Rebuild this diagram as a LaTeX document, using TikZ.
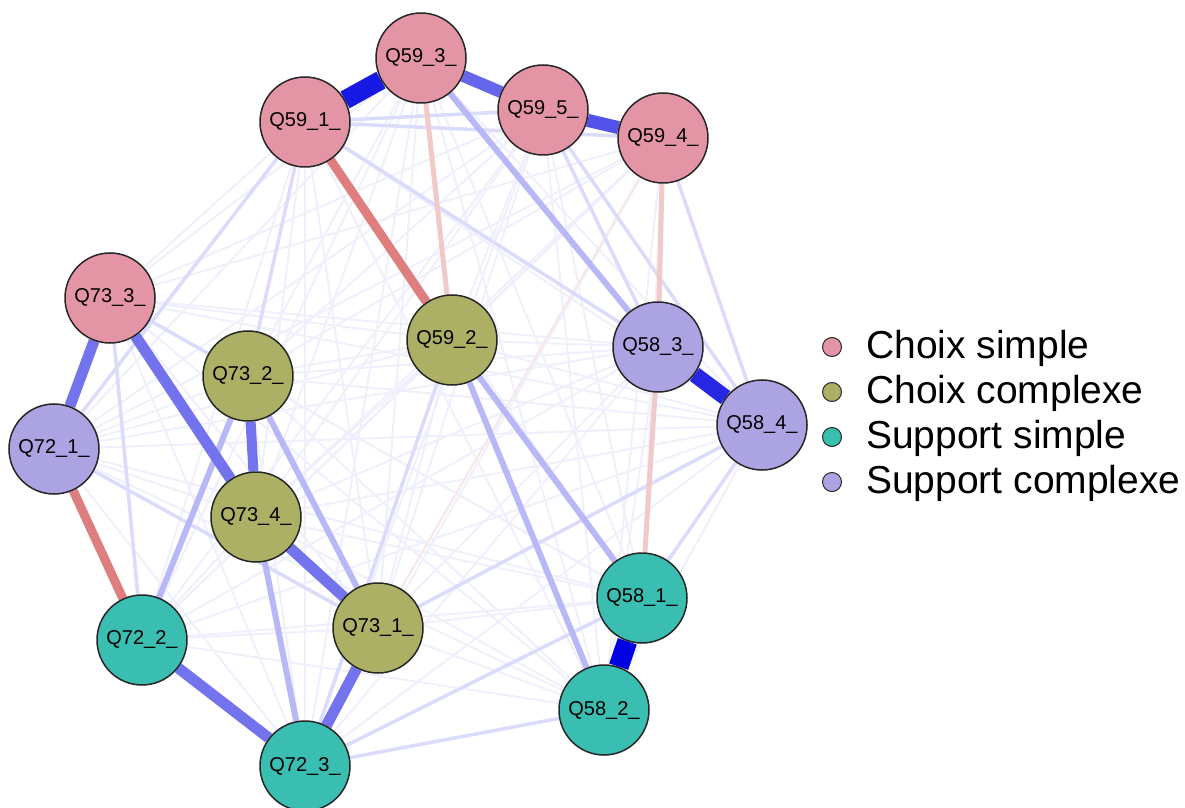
\documentclass[tikz,border=0pt]{standalone}
\usepackage{fontspec}
\setmainfont{Liberation Sans}
\usetikzlibrary{backgrounds}

\definecolor{choixsimple}{HTML}{E495A5}
\definecolor{choixcomplexe}{HTML}{ABB065}
\definecolor{supportsimple}{HTML}{39BEB1}
\definecolor{supportcomplexe}{HTML}{ACA4E2}
\definecolor{posedge}{RGB}{0,0,225}
\definecolor{negedge}{RGB}{222,126,126}

\tikzset{
  item/.style={circle, draw=black!85, line width=1.5pt, minimum size=90pt,
    inner sep=0pt, font=\fontsize{20}{24}\selectfont},
  key/.style={circle, draw=black!85, line width=1pt, minimum size=19pt, inner sep=0pt},
  keytext/.style={anchor=base west, inner sep=0pt, font=\fontsize{39}{45}\selectfont},
  edgefaint/.style={posedge!6, line width=2pt},
  edgelight/.style={posedge!14, line width=3.5pt},
  edgemid/.style={posedge!28, line width=6pt},
  edgethick/.style={posedge!55, line width=11pt},
  edgenegfaint/.style={negedge!18, line width=2pt},
  edgeneglight/.style={negedge!42, line width=5pt},
  edgeneg/.style={negedge, line width=9pt},
}

\begin{document}
\begin{tikzpicture}[x=1pt, y=1pt]
  \useasboundingbox (0,0) rectangle (1185,807);

  % Choix simple
  \node[item, fill=choixsimple] (q593) at (421,749) {Q59\_3\_};
  \node[item, fill=choixsimple] (q591) at (305,685) {Q59\_1\_};
  \node[item, fill=choixsimple] (q595) at (543,697) {Q59\_5\_};
  \node[item, fill=choixsimple] (q594) at (663,669) {Q59\_4\_};
  \node[item, fill=choixsimple] (q733) at (110,509) {Q73\_3\_};
  % Choix complexe
  \node[item, fill=choixcomplexe] (q592) at (452,467) {Q59\_2\_};
  \node[item, fill=choixcomplexe] (q732) at (248,431) {Q73\_2\_};
  \node[item, fill=choixcomplexe] (q734) at (256,290) {Q73\_4\_};
  \node[item, fill=choixcomplexe] (q731) at (378,179) {Q73\_1\_};
  % Support simple
  \node[item, fill=supportsimple] (q722) at (142,167) {Q72\_2\_};
  \node[item, fill=supportsimple] (q723) at (305,41) {Q72\_3\_};
  \node[item, fill=supportsimple] (q581) at (642,209) {Q58\_1\_};
  \node[item, fill=supportsimple] (q582) at (604,97) {Q58\_2\_};
  % Support complexe
  \node[item, fill=supportcomplexe] (q583) at (658,460) {Q58\_3\_};
  \node[item, fill=supportcomplexe] (q584) at (762,382) {Q58\_4\_};
  \node[item, fill=supportcomplexe] (q721) at (54,358) {Q72\_1\_};

  \begin{scope}[on background layer]
    % every pair gets a faint line first
    \foreach \a [count=\i] in {q593,q591,q595,q594,q733,q592,q732,q734,q731,q722,q723,q581,q582,q583,q584,q721}{
      \foreach \b [count=\j] in {q593,q591,q595,q594,q733,q592,q732,q734,q731,q722,q723,q581,q582,q583,q584,q721}{
        \ifnum\j>\i \draw[edgefaint] (\a) -- (\b); \fi
      }
    }
    \draw[edgenegfaint] (q731) -- (q594);
    \foreach \a/\b in {q595/q584, q733/q732, q584/q581, q721/q591, q591/q595,
        q591/q732, q594/q584, q591/q583, q723/q592, q721/q731, q722/q733,
        q723/q582, q723/q581, q731/q584, q591/q594, q595/q583}
      \draw[edgelight] (\a) -- (\b);
    \foreach \a/\b in {q593/q583, q592/q581, q592/q582, q732/q731, q734/q723,
        q732/q722}
      \draw[edgemid] (\a) -- (\b);
    \foreach \a/\b in {q593/q592, q594/q583, q583/q581}
      \draw[edgeneglight] (\a) -- (\b);
    \foreach \a/\b in {q721/q722, q591/q592}
      \draw[edgeneg] (\a) -- (\b);
    \foreach \a/\b in {q733/q721, q733/q734, q734/q731, q731/q723, q722/q723}
      \draw[edgethick] (\a) -- (\b);
    \draw[edgethick, line width=10pt] (q732) -- (q734);
    \draw[posedge!60, line width=12pt] (q593) -- (q595);
    \draw[posedge!68, line width=13pt] (q595) -- (q594);
    \draw[posedge!85, line width=16pt] (q583) -- (q584);
    \draw[posedge!90, line width=19pt] (q591) -- (q593);
    \draw[posedge, line width=20pt] (q581) -- (q582);
  \end{scope}

  % legend
  \node[key, fill=choixsimple] (k1) at (832,460) {};
  \node[key, fill=choixcomplexe] (k2) at (832,415) {};
  \node[key, fill=supportsimple] (k3) at (832,370) {};
  \node[key, fill=supportcomplexe] (k4) at (832,325) {};
  \node[keytext] (t1) at (866,449) {Choix simple};
  \node[keytext] (t2) at (866,404) {Choix complexe};
  \node[keytext] (t3) at (866,359) {Support simple};
  \node[keytext] (t4) at (866,314) {Support complexe};
\end{tikzpicture}
\end{document}
